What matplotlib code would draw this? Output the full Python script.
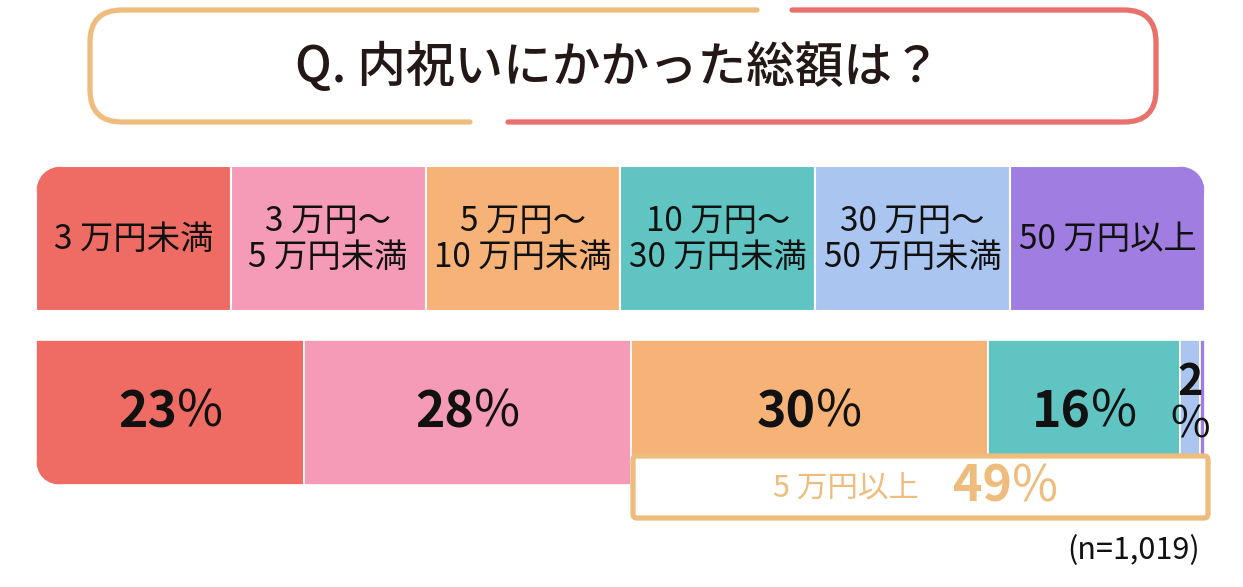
import matplotlib
matplotlib.use("Agg")
import matplotlib.pyplot as plt
from matplotlib.path import Path
from matplotlib.patches import PathPatch, FancyBboxPatch, Rectangle
from matplotlib.transforms import offset_copy

plt.rcParams["font.family"] = ["Noto Sans CJK JP", "DejaVu Sans"]

W, H = 1243, 587

TITLE = "Q. 内祝いにかかった総額は？"
CATEGORIES = [
    "3 万円未満",
    "3 万円～\n5 万円未満",
    "5 万円～\n10 万円未満",
    "10 万円～\n30 万円未満",
    "30 万円～\n50 万円未満",
    "50 万円以上",
]
SHARES = [22.9, 28.0, 30.5, 16.5, 1.7, 0.4]
SHARE_LABELS = ["23", "28", "30", "16", "2", ""]
COLORS = ["#EE6C63", "#F59BB7", "#F6B277", "#60C5C2", "#AAC5EF", "#A07DE0"]
SUM_LABEL = "5 万円以上"
SUM_VALUE = "49"
N_NOTE = "(n=1,019)"

GOLD = "#EEBD7E"
RED = "#E8716B"


def rounded_path(x0, y0, x1, y1, tl=0, tr=0, br=0, bl=0):
    # y grows downward (pixel coords): y0 is top, y1 is bottom
    verts = [(x0 + tl, y0), (x1 - tr, y0), (x1, y0), (x1, y0 + tr),
             (x1, y1 - br), (x1, y1), (x1 - br, y1),
             (x0 + bl, y1), (x0, y1), (x0, y1 - bl),
             (x0, y0 + tl), (x0, y0), (x0 + tl, y0), (x0 + tl, y0)]
    codes = [Path.MOVETO, Path.LINETO, Path.CURVE3, Path.CURVE3,
             Path.LINETO, Path.CURVE3, Path.CURVE3,
             Path.LINETO, Path.CURVE3, Path.CURVE3,
             Path.LINETO, Path.CURVE3, Path.CURVE3, Path.CLOSEPOLY]
    return Path(verts, codes)


fig = plt.figure(figsize=(W / 100, H / 100), dpi=100)
ax = fig.add_axes([0, 0, 1, 1])
ax.set_xlim(0, W)
ax.set_ylim(H, 0)
ax.axis("off")
ax.set_zorder(2)

# title frame, split in two colours
tx0, ty0, tx1, ty1, r = 90, 10, 1156, 122, 32
gold_path = Path(
    [(757, ty0), (tx0 + r, ty0), (tx0, ty0), (tx0, ty0 + r), (tx0, ty1 - r),
     (tx0, ty1), (tx0 + r, ty1), (470, ty1)],
    [Path.MOVETO, Path.LINETO, Path.CURVE3, Path.CURVE3, Path.LINETO,
     Path.CURVE3, Path.CURVE3, Path.LINETO],
)
red_path = Path(
    [(792, ty0), (tx1 - r, ty0), (tx1, ty0), (tx1, ty0 + r), (tx1, ty1 - r),
     (tx1, ty1), (tx1 - r, ty1), (508, ty1)],
    [Path.MOVETO, Path.LINETO, Path.CURVE3, Path.CURVE3, Path.LINETO,
     Path.CURVE3, Path.CURVE3, Path.LINETO],
)
for p, c in [(gold_path, GOLD), (red_path, RED)]:
    ax.add_patch(PathPatch(p, facecolor="none", edgecolor=c, lw=3.8, capstyle="round"))
ax.text(618, 68, TITLE, ha="center", va="center", fontsize=35,
        fontweight="medium", color="#231815")

# legend row
lx0, lx1, ly0, ly1 = 36, 1205, 166, 311
legend_clip = PathPatch(rounded_path(lx0, ly0, lx1, ly1, tl=30, tr=30),
                        transform=ax.transData)
cell = (lx1 - lx0) / len(CATEGORIES)
for i, (label, color) in enumerate(zip(CATEGORIES, COLORS)):
    rect = Rectangle((lx0 + i * cell, ly0), cell, ly1 - ly0, facecolor=color,
                     edgecolor="white", lw=1.5)
    ax.add_patch(rect)
    rect.set_clip_path(legend_clip)
    ax.text(lx0 + (i + 0.5) * cell, (ly0 + ly1) / 2 + 1, label, ha="center",
            va="center", fontsize=24, linespacing=1.05, color="#111111")

# stacked bar
bx0, bx1, by0, by1 = 36, 1205, 340, 485
bax = fig.add_axes([bx0 / W, 1 - by1 / H, (bx1 - bx0) / W, (by1 - by0) / H])
bax.set_zorder(1)
bax.axis("off")
total = sum(SHARES)
lefts = [sum(SHARES[:i]) for i in range(len(SHARES))]
bars = bax.barh(0, SHARES, left=lefts, height=1, color=COLORS, edgecolor="white", lw=1.2)
bax.set_xlim(0, total)
bax.set_ylim(-0.5, 0.5)
bar_clip = PathPatch(rounded_path(bx0, by0, bx1, by1, bl=28), transform=ax.transData)
for b in bars:
    b.set_clip_path(bar_clip)

for left, share, lab in zip(lefts, SHARES, SHARE_LABELS):
    if not lab:
        continue
    xc = left + share / 2
    if share > 5:
        num_tr = offset_copy(bax.transData, fig=fig, x=5, y=0, units="points")
        bax.text(xc, 0.0, lab, transform=num_tr, ha="right", va="center",
                 fontsize=36, fontweight="bold", color="#111111")
        bax.text(xc, 0.0, "%", transform=num_tr, ha="left", va="center",
                 fontsize=36, color="#111111")
    else:
        bax.text(xc, 0.21, lab, ha="center", va="center", fontsize=31,
                 fontweight="bold", color="#111111")
        bax.text(xc, -0.09, "%", ha="center", va="center", fontsize=31,
                 color="#111111")

# 5万円以上 summary box
ax.add_patch(FancyBboxPatch((633, 456), 575, 62, boxstyle="round,pad=0,rounding_size=4",
                            facecolor="white", edgecolor=GOLD, lw=3.8))
ax.text(919, 488, SUM_LABEL, ha="right", va="center", fontsize=22, color=GOLD)
ax.text(1012, 487, SUM_VALUE, ha="right", va="center", fontsize=36,
        fontweight="bold", color=GOLD)
ax.text(1012, 487, "%", ha="left", va="center", fontsize=36, color=GOLD)

ax.text(1200, 551, N_NOTE, ha="right", va="center", fontsize=22, color="#111111")

fig.savefig("out.png", dpi=100)
